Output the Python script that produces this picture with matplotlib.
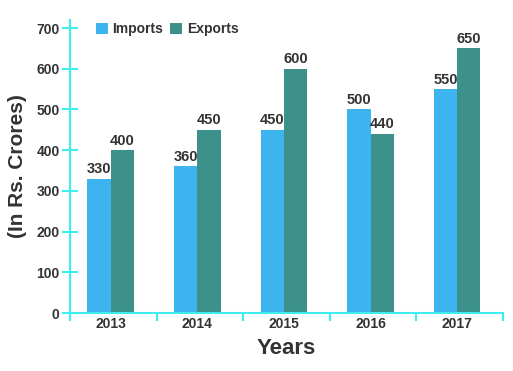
import matplotlib.pyplot as plt
import numpy as np

years = ['2013', '2014', '2015', '2016', '2017']
imports = [330, 360, 450, 500, 550]
exports = [400, 450, 600, 440, 650]
y_ticks = [0, 100, 200, 300, 400, 500, 600, 700]

plt.rcParams['font.family'] = ['Liberation Sans', 'DejaVu Sans']
txt = '#333333'
cyan = '#3EEEEE'

fig = plt.figure(figsize=(5.13, 3.71), dpi=100)
ax = fig.add_axes([0.1365, 0.1563, 0.844, 0.79])

x = np.arange(len(years))
w = 0.27
# bars sit a touch left of the category centre in the original
xc = x - 0.03
b1 = ax.bar(xc - w / 2, imports, w, color='#3DB4F0', label='Imports')
b2 = ax.bar(xc + w / 2, exports, w, color='#3C918B', label='Exports')

for bars, vals in [(b1, imports), (b2, exports)]:
    for r, v in zip(bars, vals):
        ax.text(r.get_x() + r.get_width() / 2, v + 6, str(v), ha='center', va='bottom',
                fontsize=10.5, fontweight='bold', color=txt)

ax.set_xlim(-0.5, len(years) - 0.5)
ax.set_ylim(0, 720)
ax.set_yticks(y_ticks)
ax.set_yticklabels([str(t) for t in y_ticks], fontsize=10, fontweight='bold', color=txt)
ax.set_xticks(np.arange(len(years) + 1) - 0.5)
ax.set_xticklabels([])
ax.set_xticks(xc, minor=True)
ax.set_xticklabels(years, minor=True, fontsize=10, fontweight='bold', color=txt)
ax.tick_params(axis='x', which='major', direction='out', length=6, color=cyan, width=1.5)
ax.tick_params(axis='x', which='minor', length=0, pad=3)
ax.tick_params(axis='y', direction='inout', length=11, color=cyan, width=1.5, pad=2)

for s in ['top', 'right']:
    ax.spines[s].set_visible(False)
for s in ['left', 'bottom']:
    ax.spines[s].set_color(cyan)
    ax.spines[s].set_linewidth(1.5)

ax.set_xlabel('Years', fontsize=16, fontweight='bold', color=txt, labelpad=5)
ax.set_ylabel('(In Rs. Crores)', fontsize=15, fontweight='bold', color=txt, labelpad=7)

leg = ax.legend(loc='upper left', bbox_to_anchor=(0.03, 1.035), ncol=2, frameon=False,
                prop={'weight': 'bold', 'size': 10}, handlelength=0.9, handleheight=0.9,
                handletextpad=0.3, columnspacing=0.5)
for t in leg.get_texts():
    t.set_color(txt)

fig.savefig('out.png', dpi=100)
